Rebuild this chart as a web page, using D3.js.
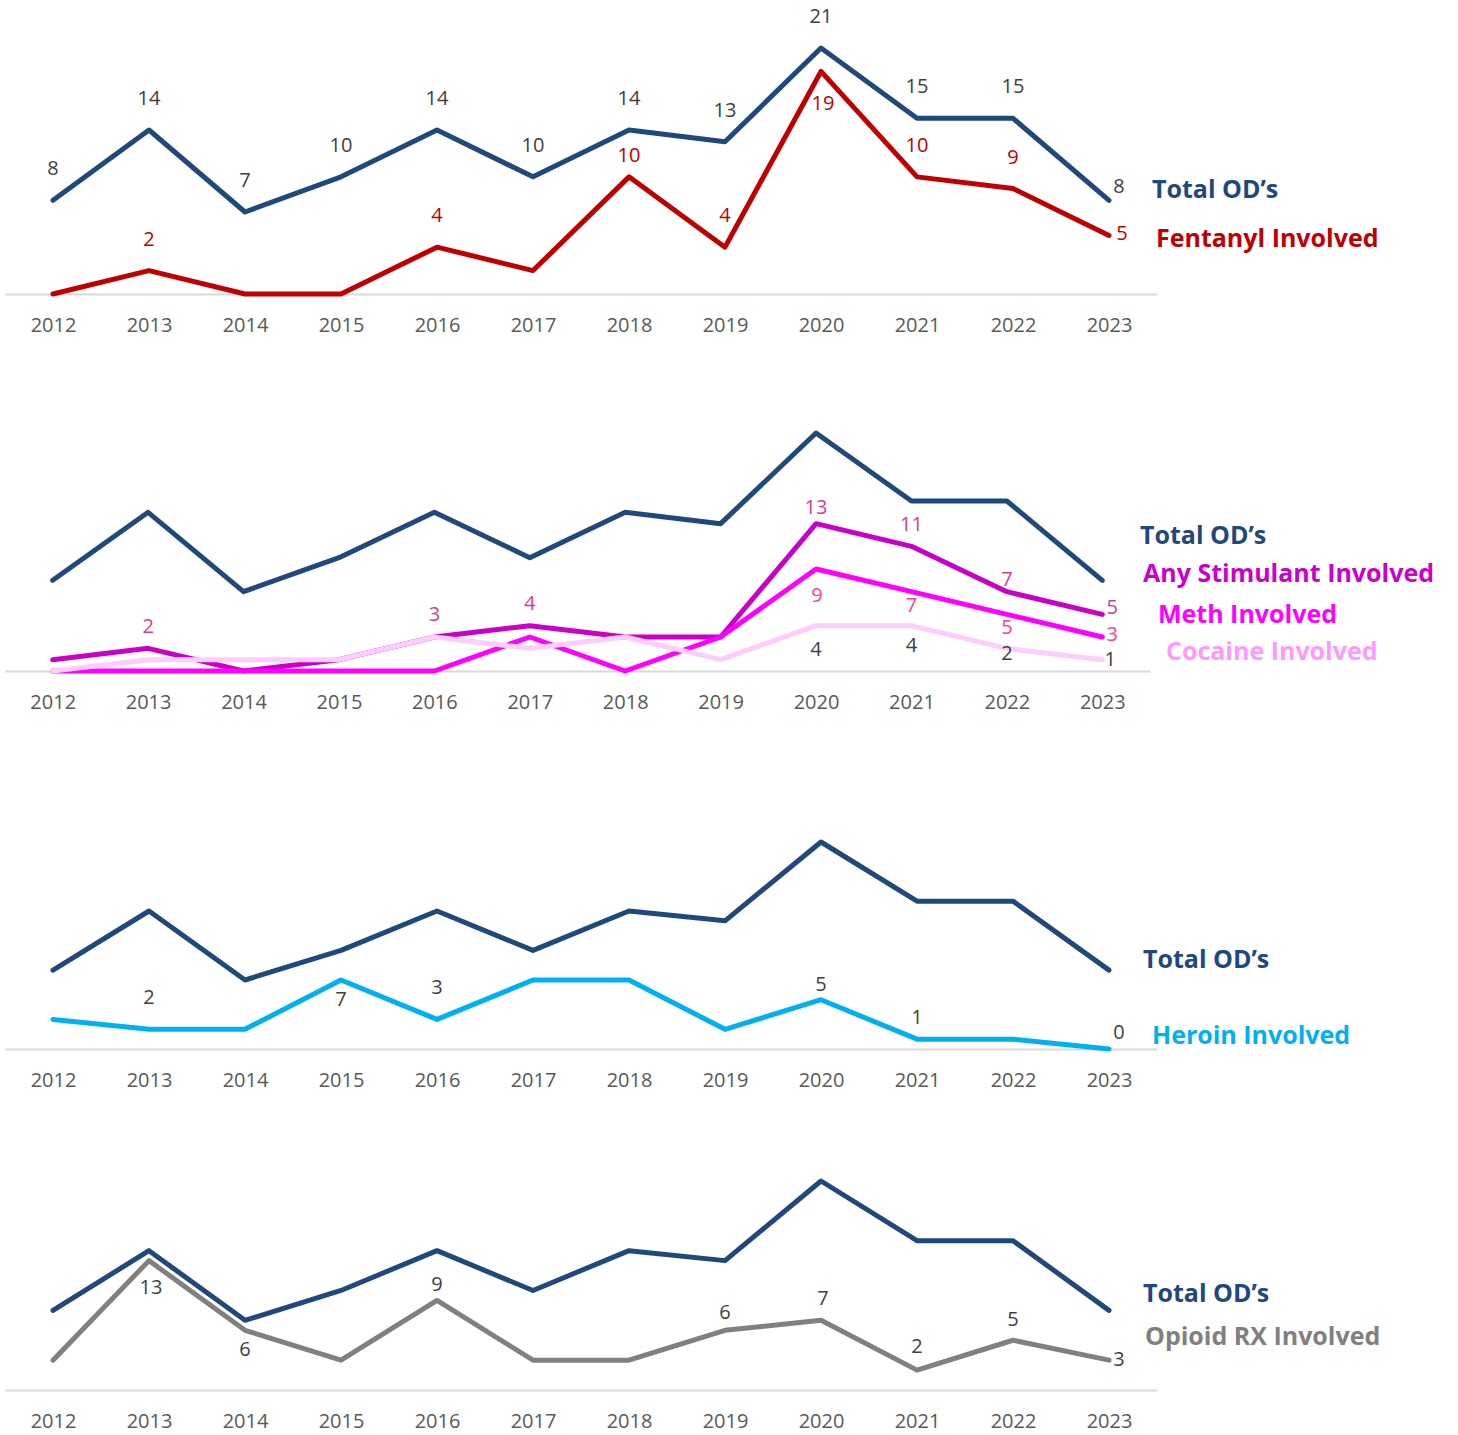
<!DOCTYPE html>
<html>
<head>
<meta charset="utf-8">
<script src="https://cdn.jsdelivr.net/npm/d3@7"></script>
<style>
  body { margin: 0; background: #fff; }
  svg { display: block; }
  .tick text { font-family: "Open Sans", sans-serif; font-size: 20px; fill: #595959; }
  .lbl { font-family: "Open Sans", sans-serif; font-size: 20px; }
  .legend { font-family: "Open Sans", sans-serif; font-size: 25px; font-weight: 700; }
</style>
</head>
<body>
<script>
// data
var years = [2012, 2013, 2014, 2015, 2016, 2017, 2018, 2019, 2020, 2021, 2022, 2023];
var totalOD   = [8, 14, 7, 10, 14, 10, 14, 13, 21, 15, 15, 8];
var fentanyl  = [0, 2, 0, 0, 4, 2, 10, 4, 19, 10, 9, 5];
var stimulant = [1, 2, 0, 1, 3, 4, 3, 3, 13, 11, 7, 5];
var meth      = [0, 0, 0, 0, 0, 3, 0, 3, 9, 7, 5, 3];
var cocaine   = [0, 1, 1, 1, 3, 2, 3, 1, 4, 4, 2, 1];
var heroin    = [3, 2, 2, 7, 3, 7, 7, 2, 5, 1, 1, 0];
var opioidRx  = [3, 13, 6, 3, 9, 3, 3, 6, 7, 2, 5, 3];

// where each value label sits relative to its point ([dx, dy]); null = not shown
var A = [0, -32], _ = null;
var lblTotal     = [A, A, A, A, A, A, A, A, A, A, A, [10, -14]];
var lblFentanyl  = [_, A, _, _, A, _, [0, -22], A, [2, 32], A, A, [13, -2]];
var lblStimulant = [_, [0, -22], _, _, [0, -23], [0, -23], _, _, [0, -17], [0, -22], [0, -13], [10, -7]];
var lblMeth      = [_, _, _, _, _, _, _, _, [1, 26], [0, 13], [0, 13], [10, -3]];
var lblCocaine   = [_, _, _, _, _, _, _, _, [0, 23], [0, 19], [0, 5], [8, -1]];
var lblHeroin    = [_, [0, -32], _, [0, 19], [0, -32], _, _, _, [0, -16], [0, -22], _, [10, -17]];
var lblOpioid    = [_, [2, 26], [0, 19], _, [0, -16], _, _, [0, -18], [2, -22], [0, -24], [0, -21], [10, -1]];

var navy = "#1F497D";

var panels = [
  { top: 48, base: 294, right: 1157,
    series: [
      { values: totalOD, color: navy, labels: lblTotal, lc: "#404040" },
      { values: fentanyl, color: "#C00000", labels: lblFentanyl, lc: "#C00000" }
    ],
    legend: [
      { text: "Total OD’s", color: navy, x: 1152, y: 189 },
      { text: "Fentanyl Involved", color: "#C00000", x: 1156, y: 238 }
    ] },
  { top: 433, base: 671, right: 1150,
    series: [
      { values: totalOD, color: navy },
      { values: stimulant, color: "#C800C8", labels: lblStimulant, lc: "#D63C96" },
      { values: meth, color: "#FF00FF", labels: lblMeth, lc: "#FF3D9A" },
      { values: cocaine, color: "#FFCCFF", labels: lblCocaine, lc: "#404040" }
    ],
    legend: [
      { text: "Total OD’s", color: navy, x: 1140, y: 535 },
      { text: "Any Stimulant Involved", color: "#CC00CC", x: 1143, y: 573 },
      { text: "Meth Involved", color: "#FF00FF", x: 1158, y: 614 },
      { text: "Cocaine Involved", color: "#FF99FF", x: 1166, y: 651 }
    ] },
  { top: 842, base: 1049, right: 1157,
    series: [
      { values: totalOD, color: navy },
      { values: heroin, color: "#00B0F0", labels: lblHeroin, lc: "#404040" }
    ],
    legend: [
      { text: "Total OD’s", color: navy, x: 1143, y: 959 },
      { text: "Heroin Involved", color: "#00B0F0", x: 1152, y: 1035 }
    ] },
  { top: 1181, base: 1390, right: 1157,
    series: [
      { values: totalOD, color: navy },
      { values: opioidRx, color: "#808080", labels: lblOpioid, lc: "#404040" }
    ],
    legend: [
      { text: "Total OD’s", color: navy, x: 1143, y: 1293 },
      { text: "Opioid RX Involved", color: "#808080", x: 1145, y: 1336 }
    ] }
];

var svg = d3.select("body").append("svg")
  .attr("width", 1458)
  .attr("height", 1435);

panels.forEach(function(p) {
  var x = d3.scalePoint().domain(years).range([5, p.right]).padding(0.5);
  var y = d3.scaleLinear().domain([0, 21]).range([p.base, p.top]);
  var g = svg.append("g");

  var ax = g.append("g")
    .attr("transform", "translate(0," + p.base + ")")
    .call(d3.axisBottom(x).tickSize(0).tickSizeOuter(0).tickPadding(24));
  ax.select(".domain").attr("stroke", "#D9D9D9").attr("stroke-width", 2);

  var line = d3.line()
    .x(function(d, i) { return x(years[i]); })
    .y(function(d) { return y(d); });

  p.series.forEach(function(s) {
    g.append("path")
      .datum(s.values)
      .attr("d", line)
      .attr("fill", "none")
      .attr("stroke", s.color)
      .attr("stroke-width", 5)
      .attr("stroke-linejoin", "round")
      .attr("stroke-linecap", "round");
  });

  // value labels on top of all lines
  p.series.forEach(function(s) {
    if (!s.labels) return;
    g.selectAll(null)
      .data(s.values.map(function(v, i) { return { v: v, i: i, off: s.labels[i] }; })
        .filter(function(d) { return d.off; }))
      .enter().append("text")
      .attr("class", "lbl")
      .attr("x", function(d) { return x(years[d.i]) + d.off[0]; })
      .attr("y", function(d) { return y(d.v) + d.off[1]; })
      .attr("dy", "0.35em")
      .attr("text-anchor", "middle")
      .attr("fill", s.lc)
      .text(function(d) { return d.v; });
  });

  g.selectAll(".legend")
    .data(p.legend)
    .enter().append("text")
    .attr("class", "legend")
    .attr("x", function(d) { return d.x; })
    .attr("y", function(d) { return d.y; })
    .attr("dy", "0.35em")
    .attr("fill", function(d) { return d.color; })
    .text(function(d) { return d.text; });
});
</script>
</body>
</html>
